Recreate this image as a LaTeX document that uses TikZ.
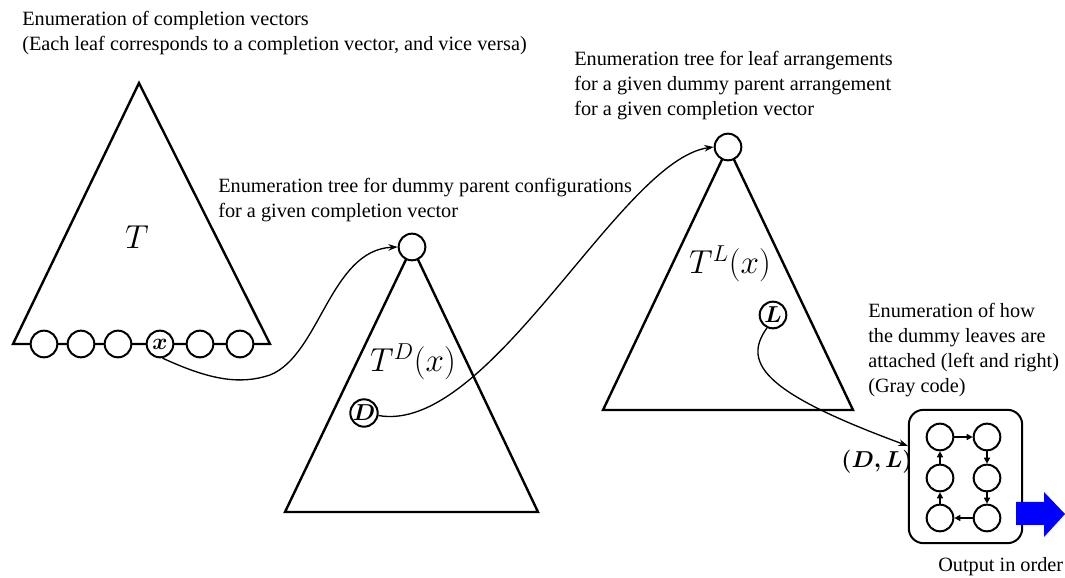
\documentclass[tikz,border=0pt]{standalone}
\usepackage{fontspec}
\setmainfont{Liberation Serif}
\usepackage{amsmath}
\usepackage{bm}
\usetikzlibrary{arrows.meta}

\begin{document}
\begin{tikzpicture}[x=0.75pt,y=0.75pt,
    vtx/.style={circle,draw,line width=1.5pt,fill=white,minimum size=20pt,inner sep=0pt,font=\fontsize{16}{18}\selectfont},
    lbl/.style={align=left,anchor=west,inner sep=0pt,font=\fontsize{15.2}{18.75}\selectfont},
    big/.style={font=\fontsize{24}{28}\selectfont},
    tri/.style={line width=1.8pt},
    link/.style={line width=1pt,-{Stealth[length=7pt,width=5pt]}},
    flow/.style={line width=1.3pt,-{Triangle[length=4.5pt,width=4.5pt]}}]
    \useasboundingbox (0,0) rectangle (1065,578);
    % completion vectors
    \draw[tri] (13,234)--(139,495)--(270,234)--cycle;
    \node[font=\fontsize{25}{28}\selectfont] (tt) at (137,341) {$T$};
    \foreach \i/\p in {1/44,2/81,3/118,5/200,6/240}
    {
        \node[vtx] (c\i) at (\p,234) {};
    }
    \node[vtx,font=\fontsize{18}{20}\selectfont] (x) at (160,234) {$\bm{x}$};
    % dummy parents
    \draw[tri] (285,66)--(412,331)--(538,66)--cycle;
    \node[vtx] (rd) at (412,331) {};
    \node[big] (td) at (413,216) {$T^D(x)$};
    \node[vtx] (d) at (364,165) {$\bm{D}$};
    % leaf arrangements
    \draw[tri] (603,168)--(728,431)--(853,168)--cycle;
    \node[vtx] (rl) at (728,431) {};
    \node[big] (tl) at (730,314) {$T^L(x)$};
    \node[vtx] (l) at (773,263) {$\bm{L}$};
    % gray code box
    \node[draw,rounded corners=11pt,line width=1.5pt,minimum width=85pt,minimum height=100pt] (gray) at (965.5,101.5) {};
    \node[vtx] (g1) at (940,141) {};
    \node[vtx] (g2) at (987,141) {};
    \node[vtx] (g3) at (987,100) {};
    \node[vtx] (g4) at (987,60) {};
    \node[vtx] (g5) at (940,60) {};
    \node[vtx] (g6) at (940,100) {};
    \foreach \a/\b in {1/2,2/3,3/4,4/5,5/6,6/1}
    {
        \draw[flow] (g\a)--(g\b);
    }
    \node[font=\fontsize{16}{18}\selectfont] (dl) at (877,116) {$\bm{(D,L)}$};
    \fill[blue] (1016,76)--(1044,76)--(1044,86)--(1065,64)--(1044,41)--(1044,53)--(1016,53)--cycle;
    % connections
    \draw[link] (x.-80) .. controls (210,198) and (240,193) .. (270,203)
        .. controls (320,223) and (330,328) .. (rd.west);
    \draw[link] (d.-10) .. controls (490,143) and (620,418) .. (rl.west);
    \draw[link] (l.-115) .. controls (740,213) and (770,183) .. (gray.152);
    % texts
    \node[lbl] (t1) at (22,545) {Enumeration of completion vectors\\(Each leaf corresponds to a completion vector, and vice versa)};
    \node[lbl] (t2) at (218,378) {Enumeration tree for dummy parent configurations\\for a given completion vector};
    \node[lbl] (t3) at (574,492) {Enumeration tree for leaf arrangements\\for a given dummy parent arrangement\\for a given completion vector};
    \node[lbl] (t4) at (868,227.5) {Enumeration of how\\the dummy leaves are\\attached (left and right)\\(Gray code)};
    \node[lbl] (t5) at (938,11) {Output in order};
\end{tikzpicture}
\end{document}
